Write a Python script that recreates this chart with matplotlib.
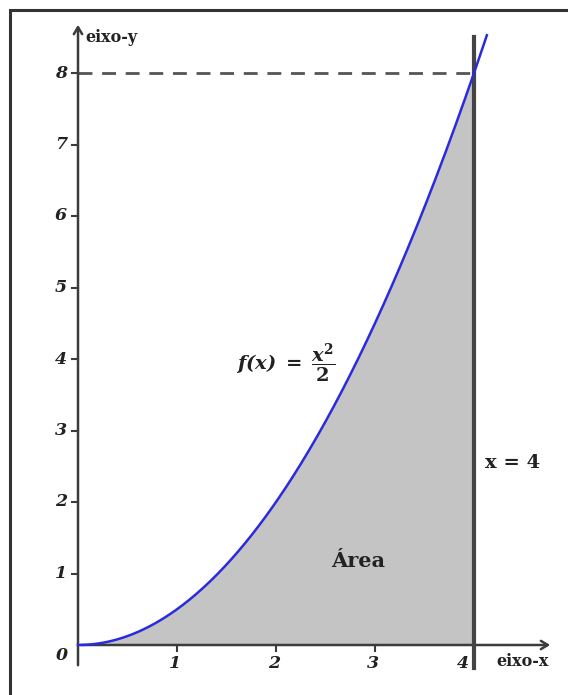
import numpy as np
import matplotlib
matplotlib.use("Agg")
import matplotlib.pyplot as plt
from matplotlib.patches import Rectangle

plt.rcParams['mathtext.fontset'] = 'dejavuserif'

# data
x_upper = 4
y_ticks = [0, 1, 2, 3, 4, 5, 6, 7, 8]
x_ticks = [1, 2, 3, 4]
curve_x = np.linspace(0, 4.13, 300)
curve_y = curve_x ** 2 / 2
area_x = np.linspace(0, x_upper, 300)
area_y = area_x ** 2 / 2

W, H = 568, 695
fig = plt.figure(figsize=(W / 100, H / 100), dpi=100)
ax = fig.add_axes([0, 0, 1, 1])
ox, sx = 78, 99.0
oy, sy = 645, 71.5
ax.set_xlim(-ox / sx, (W - ox) / sx)
ax.set_ylim((oy - H) / sy, oy / sy)
ax.axis('off')

serif = ['DejaVu Serif']
axc = '#3c3c3c'
tc = '#222222'

# frame
fig.patches.append(Rectangle((10 / W, -0.1), 1.2, (H - 10) / H + 0.1, transform=fig.transFigure,
                             fill=False, edgecolor='#333333', lw=2.2, zorder=0))

# shaded area
ax.fill_between(area_x, 0, area_y, color='#c4c4c4', lw=0, zorder=1)

# dashed line at y=8
ax.plot([0, x_upper], [8, 8], ls=(0, (5, 3.5)), color='#555555', lw=2, zorder=2)

# axes
ax.annotate('', xy=(0, (oy - 22) / sy), xytext=(0, -23 / sy),
            arrowprops=dict(arrowstyle='->,head_width=0.3,head_length=0.5', color=axc, lw=1.8), zorder=3)
ax.annotate('', xy=((553 - ox) / sx, 0), xytext=(0, 0),
            arrowprops=dict(arrowstyle='->,head_width=0.3,head_length=0.5', color=axc, lw=1.8), zorder=3)

# vertical line x = 4
ax.plot([x_upper, x_upper], [-23 / sy, (oy - 37) / sy], color='#444444', lw=3, zorder=3)

# curve
ax.plot(curve_x, curve_y, color='#2a2ae0', lw=1.8, zorder=4)

tick_kw = dict(fontsize=12.5, fontstyle='italic', fontweight='bold', family=serif, color=tc)

# y ticks
for v in y_ticks:
    if v > 0:
        ax.plot([-6 / sx, 0], [v, v], color=axc, lw=1.5, zorder=3)
        ax.text(-11 / sx, v, str(v), ha='right', va='center', **tick_kw)
    else:
        ax.text(-10 / sx, -10 / sy, str(v), ha='right', va='center', **tick_kw)

# x ticks
for v in x_ticks:
    if v < 4:
        ax.plot([v, v], [0, -6 / sy], color=axc, lw=1.5, zorder=3)
        ax.text(v - 2 / sx, -19 / sy, str(v), ha='center', va='center', **tick_kw)
    else:
        ax.text(v - 11 / sx, -19 / sy, str(v), ha='center', va='center', **tick_kw)

# labels
ax.text(7 / sx, (oy - 38) / sy, 'eixo-y', ha='left', va='center', fontsize=11.5,
        fontweight='bold', family=serif, color=tc)
ax.text((496 - ox) / sx, -16 / sy, 'eixo-x', ha='left', va='center', fontsize=11.5,
        fontweight='bold', family=serif, color=tc)
ax.text((485 - ox) / sx, (oy - 463) / sy, 'x = 4', ha='left', va='center', fontsize=14,
        fontweight='bold', family=serif, color=tc)
ax.text((358 - ox) / sx, (oy - 561) / sy, 'Área', ha='center', va='center', fontsize=15,
        fontweight='bold', family=serif, color=tc)
ax.text((236 - ox) / sx, (oy - 363) / sy,
        r'$\mathbfit{f(x)}\ \mathbf{=}\ \dfrac{\mathbfit{x}^{\mathbf{2}}}{\mathbf{2}}$',
        ha='left', va='center', fontsize=14, color=tc)

fig.savefig('out.png', dpi=100)
